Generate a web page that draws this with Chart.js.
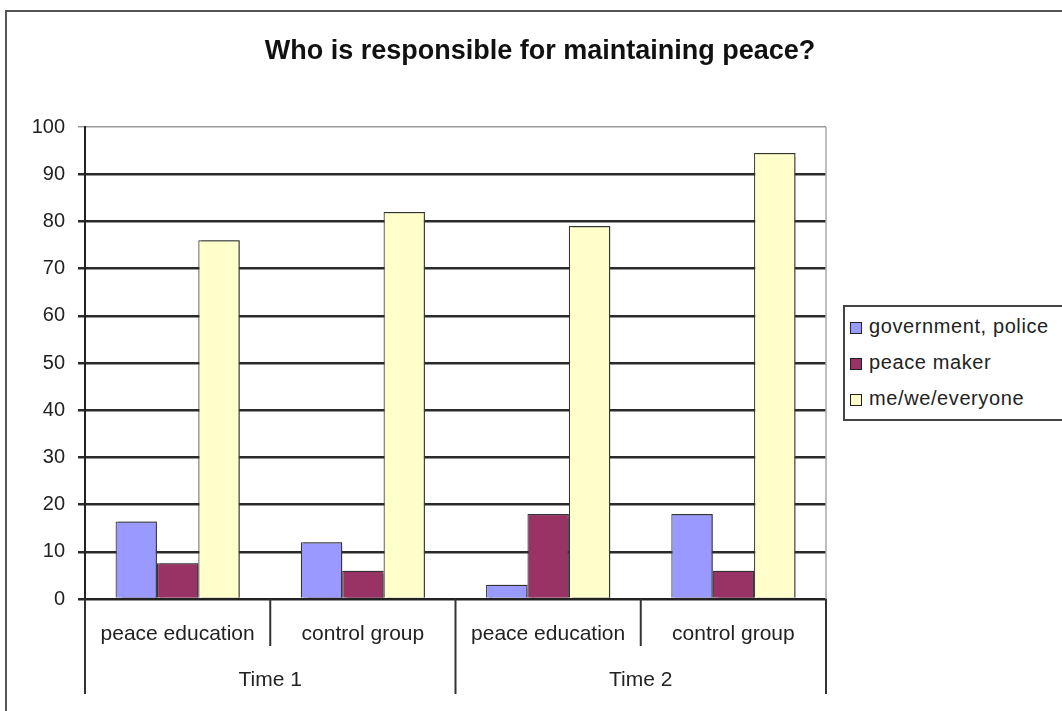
<!DOCTYPE html>
<html>
<head>
<meta charset="utf-8">
<script src="https://cdn.jsdelivr.net/npm/chart.js@4/dist/chart.umd.min.js"></script>
<style>
  html, body { margin: 0; padding: 0; background: #fff; }
  #wrap { position: relative; width: 1062px; height: 711px; overflow: hidden; }
  #frame {
    position: absolute; left: 5px; top: 10px; width: 1100px; height: 760px;
    border-top: 2px solid #555; border-left: 2px solid #555;
  }
  #chart { position: absolute; left: 0; top: 0; }
  #legend {
    position: absolute; left: 843px; top: 305px; width: 240px; height: 116px;
    border: 2px solid #444; background: #fff; box-sizing: border-box;
    font-family: "Liberation Sans", Arial, sans-serif; font-size: 20px; color: #222;
    padding-top: 1px;
  }
  .legend-item { height: 36px; line-height: 36px; white-space: nowrap; letter-spacing: 0.6px; }
  .legend-dot {
    display: inline-block; width: 10px; height: 10px; border: 1.5px solid #222;
    margin: 0 7px 0 5px; vertical-align: -1px;
  }
</style>
</head>
<body>
<div id="wrap">
  <div id="frame"></div>
  <canvas id="chart" width="1062" height="711"></canvas>
  <div id="legend"></div>
</div>
<script>
const chartTitle = 'Who is responsible for maintaining peace?';
const groups = ['peace education', 'control group', 'peace education', 'control group'];
const times = ['Time 1', 'Time 2'];
const seriesNames = ['government, police', 'peace maker', 'me/we/everyone'];
const govPolice = [16.4, 12, 3, 18];
const peaceMaker = [7.6, 6, 18, 6];
const everyone = [76, 82, 79, 94.5];
const yTicks = [0, 10, 20, 30, 40, 50, 60, 70, 80, 90, 100];

const colors = ['#9999FF', '#993366', '#FFFFCC'];
const font = '"Liberation Sans", Arial, sans-serif';

// gray drop shadow on the right side of every bar
const barShadow = {
  id: 'barShadow',
  beforeDatasetsDraw(chart) {
    const ctx = chart.ctx;
    ctx.save();
    ctx.shadowColor = 'rgba(60,60,60,0.75)';
    ctx.shadowOffsetX = 3;
    ctx.shadowOffsetY = 0;
    ctx.shadowBlur = 1;
  },
  afterDatasetsDraw(chart) {
    chart.ctx.restore();
  }
};

// title, plot frame and the two-level category axis
const decorations = {
  id: 'decorations',
  afterDraw(chart) {
    const ctx = chart.ctx;
    const area = chart.chartArea;
    const x = chart.scales.x;
    const half = (x.getPixelForValue(1) - x.getPixelForValue(0)) / 2;

    ctx.save();
    ctx.fillStyle = '#111';
    ctx.font = 'bold 27px ' + font;
    ctx.textAlign = 'center';
    ctx.textBaseline = 'middle';
    ctx.fillText(chartTitle, 540, 52);

    // right edge of plot area
    ctx.strokeStyle = '#aaa';
    ctx.lineWidth = 1.5;
    ctx.beginPath();
    ctx.moveTo(area.right, area.top);
    ctx.lineTo(area.right, area.bottom);
    ctx.stroke();

    // separators between categories and between time groups
    ctx.strokeStyle = '#333';
    ctx.lineWidth = 2;
    for (let i = 0; i <= groups.length; i++) {
      const px = i < groups.length ? x.getPixelForValue(i) - half : x.getPixelForValue(i - 1) + half;
      const outer = i % 2 === 0;
      ctx.beginPath();
      ctx.moveTo(px, area.bottom);
      ctx.lineTo(px, area.bottom + (outer ? 95 : 47));
      ctx.stroke();
    }

    ctx.fillStyle = '#222';
    ctx.font = '21px ' + font;
    times.forEach((t, i) => {
      const cx = (x.getPixelForValue(i * 2) + x.getPixelForValue(i * 2 + 1)) / 2;
      ctx.fillText(t, cx, area.bottom + 81);
    });
    ctx.restore();
  }
};

new Chart(document.getElementById('chart'), {
  type: 'bar',
  data: {
    labels: groups,
    datasets: [
      { label: seriesNames[0], data: govPolice, backgroundColor: colors[0] },
      { label: seriesNames[1], data: peaceMaker, backgroundColor: colors[1] },
      { label: seriesNames[2], data: everyone, backgroundColor: colors[2] }
    ]
  },
  options: {
    responsive: false,
    animation: false,
    datasets: {
      bar: {
        borderColor: '#333',
        borderWidth: 1.2,
        categoryPercentage: 0.67,
        barPercentage: 1
      }
    },
    layout: { padding: { left: 0, right: 236, top: 127, bottom: 0 } },
    plugins: {
      legend: { display: false },
      tooltip: { enabled: false }
    },
    scales: {
      x: {
        grid: { display: false, drawTicks: false },
        border: { display: true, color: '#222', width: 2 },
        ticks: { color: '#222', font: { family: font, size: 21 }, padding: 23, maxRotation: 0 },
        afterFit(scale) { scale.height = 112; }
      },
      y: {
        min: 0,
        max: 100,
        afterBuildTicks(scale) { scale.ticks = yTicks.map(v => ({ value: v })); },
        grid: {
          color: ctx => ctx.tick && ctx.tick.value === 100 ? '#999' : '#2a2a2a',
          lineWidth: ctx => ctx.tick && ctx.tick.value === 100 ? 1.5 : 2.5,
          tickLength: 7
        },
        border: { display: true, color: '#222', width: 2 },
        ticks: { color: '#222', font: { family: font, size: 20 }, padding: 13 },
        afterFit(scale) { scale.width = 85; }
      }
    }
  },
  plugins: [barShadow, decorations]
});

const legend = document.getElementById('legend');
legend.innerHTML = seriesNames.map((n, i) =>
  `<div class="legend-item"><span class="legend-dot" style="background:${colors[i]}"></span>${n}</div>`
).join('');
</script>
</body>
</html>
